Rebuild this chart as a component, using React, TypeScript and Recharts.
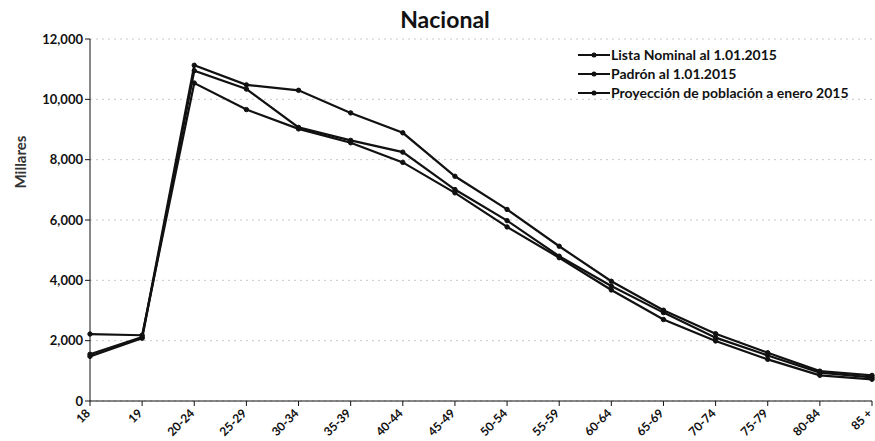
import React from 'react';
import { LineChart, Line, XAxis, YAxis, CartesianGrid } from 'recharts';

const AGE_GROUPS = ['18', '19', '20-24', '25-29', '30-34', '35-39', '40-44', '45-49', '50-54', '55-59', '60-64', '65-69', '70-74', '75-79', '80-84', '85 +'];

// miles de personas
const LISTA_NOMINAL = [1480, 2080, 10950, 10340, 9070, 8640, 8250, 7010, 5980, 4800, 3810, 2930, 2100, 1510, 940, 780];
const PADRON = [1550, 2120, 11130, 10480, 10300, 9550, 8890, 7450, 6350, 5130, 3970, 3010, 2230, 1600, 990, 850];
const PROYECCION = [2220, 2180, 10540, 9660, 9020, 8560, 7910, 6900, 5770, 4750, 3680, 2700, 1990, 1380, 850, 720];

const Y_TICKS = [0, 2000, 4000, 6000, 8000, 10000, 12000];

const SERIES = [
  { key: 'lista', name: 'Lista Nominal al 1.01.2015', values: LISTA_NOMINAL },
  { key: 'padron', name: 'Padrón al 1.01.2015', values: PADRON },
  { key: 'proyeccion', name: 'Proyección de población a enero 2015', values: PROYECCION },
];

const data = AGE_GROUPS.map((g, i) => ({
  group: g,
  lista: LISTA_NOMINAL[i],
  padron: PADRON[i],
  proyeccion: PROYECCION[i],
}));

const FONT = 'Lato, "Open Sans", sans-serif';
const INK = '#111';

const fmt = (v: number) => v.toLocaleString('en-US');

const AgeTick = (props: any) => {
  const { x, y, payload } = props;
  return (
    <g transform={`translate(${x + 1},${y + 6})`}>
      <text textAnchor="end" transform="rotate(-45)" fontSize={12} fontWeight={700} fill={INK} fontFamily={FONT}>
        {payload.value}
      </text>
    </g>
  );
};

// leyenda fuera del chart para que no le quite ancho al area de trazado
const LegendBox = () => (
  <div style={{ position: 'absolute', left: 578, top: 45, zIndex: 2, fontFamily: FONT, fontSize: 14, fontWeight: 700, color: INK, lineHeight: '19px' }}>
    {SERIES.map((s) => (
      <div key={s.key} style={{ display: 'flex', alignItems: 'center' }}>
        <svg width={32} height={10} style={{ marginRight: 1 }}>
          <line x1={0} y1={5} x2={32} y2={5} stroke={INK} strokeWidth={2} />
          <circle cx={16} cy={5} r={2.5} fill={INK} />
        </svg>
        <span>{s.name}</span>
      </div>
    ))}
  </div>
);

export default function App() {
  return (
    <div style={{ position: 'absolute', left: 0, top: 0, width: 875, height: 441, background: '#fff' }}>
      <div style={{ position: 'absolute', left: 0, top: 5, width: 890, textAlign: 'center', fontFamily: FONT, fontWeight: 700, fontSize: 23, color: INK, zIndex: 2 }}>
        Nacional
      </div>
      <div style={{ position: 'absolute', left: 20, top: 162, transform: 'translate(-50%, -50%) rotate(-90deg)', fontFamily: FONT, fontWeight: 700, fontSize: 15, color: '#333', whiteSpace: 'nowrap', zIndex: 2 }}>
        Millares
      </div>
      <LegendBox />
      <LineChart width={875} height={441} data={data} margin={{ top: 39, right: 3, bottom: 0, left: 30 }}>
        <CartesianGrid vertical={false} stroke="#c8c8c8" strokeDasharray="2 4" />
        <XAxis
          dataKey="group"
          interval={0}
          height={40}
          stroke={INK}
          tickSize={5}
          tick={<AgeTick />}
        />
        <YAxis
          width={60}
          domain={[0, 12000]}
          ticks={Y_TICKS}
          tickFormatter={fmt}
          stroke={INK}
          tickSize={5}
          tick={{ fontSize: 13, fontWeight: 700, fill: INK, fontFamily: FONT }}
        />
        {SERIES.map((s) => (
          <Line
            key={s.key}
            dataKey={s.key}
            name={s.name}
            type="linear"
            stroke={INK}
            strokeWidth={2.2}
            dot={{ r: 2.2, fill: INK, stroke: INK, strokeWidth: 1 }}
            isAnimationActive={false}
          />
        ))}
      </LineChart>
    </div>
  );
}
